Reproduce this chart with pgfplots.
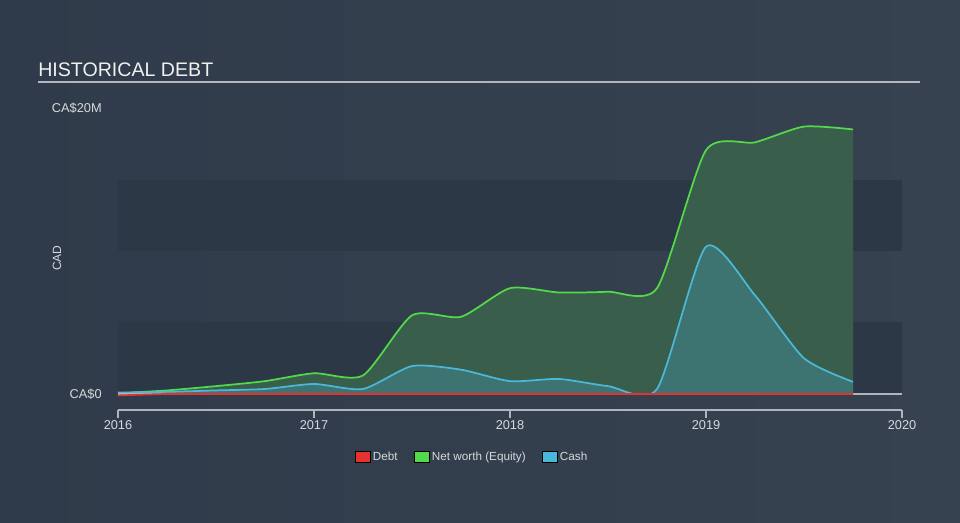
\documentclass[border=0pt]{standalone}
\usepackage{pgfplots}
\pgfplotsset{compat=1.18}
\usepackage{fontspec}
\setmainfont{Liberation Sans}
\definecolor{bgL}{HTML}{2F3B4A}
\definecolor{bgR}{HTML}{36424F}
\definecolor{band}{HTML}{2C3846}
\definecolor{titlec}{HTML}{F0F0F0}
\definecolor{rulec}{HTML}{B4B8BE}
\definecolor{labc}{HTML}{D6D9DD}
\definecolor{axc}{HTML}{B0B5BC}
\definecolor{debtc}{HTML}{E5312F}
\definecolor{netc}{HTML}{52DA4A}
\definecolor{cashc}{HTML}{4AB9D9}
\definecolor{netfill}{HTML}{3A5E4C}
\definecolor{cashfill}{HTML}{3D7370}

\pgfplotstableread{
x y
2016.00 0.05
2016.25 0.25
2016.50 0.55
2016.75 0.90
2017.00 1.45
2017.25 1.30
2017.50 5.50
2017.75 5.40
2018.00 7.40
2018.25 7.10
2018.50 7.15
2018.75 7.40
2019.00 17.05
2019.25 17.60
2019.50 18.70
2019.75 18.50
}\networth

\pgfplotstableread{
x y
2016.00 0.10
2016.25 0.15
2016.50 0.25
2016.75 0.35
2017.00 0.70
2017.25 0.35
2017.50 1.95
2017.75 1.70
2018.00 0.90
2018.25 1.05
2018.50 0.55
2018.75 0.35
2019.00 10.30
2019.25 6.90
2019.50 2.50
2019.75 0.85
}\cash

\pgfplotstableread{
x y
2016.00 -0.10
2016.25 0.00
2016.50 0.00
2016.75 0.00
2017.00 0.00
2017.25 0.00
2017.50 0.00
2017.75 0.00
2018.00 0.00
2018.25 0.00
2018.50 0.00
2018.75 0.00
2019.00 0.00
2019.25 0.00
2019.50 0.00
2019.75 0.00
}\debt

\begin{document}
\begin{tikzpicture}
\shade[left color=bgL, right color=bgR] (0,0) rectangle (720pt,-391.5pt);
\useasboundingbox (0,0) rectangle (720pt,-391.5pt);
\node[anchor=base west, text=titlec, font=\fontsize{14.7}{18}\selectfont, inner sep=0pt] at (28.5pt,-57.6pt) {HISTORICAL DEBT};
\draw[rulec, line width=1.4pt] (28.5pt,-61.5pt) -- (690pt,-61.5pt);
\node[rotate=90, text=labc, font=\fontsize{9}{11}\selectfont] at (42.75pt,-193.5pt) {CAD};
\begin{axis}[
  at={(88.5pt,-307.5pt)}, anchor=south west,
  scale only axis, width=588pt, height=226.5pt,
  xmin=2016, xmax=2020, ymin=-1.12, ymax=20,
  axis x line*=bottom, axis y line*=left,
  y axis line style={draw=none},
  x axis line style={draw=axc, line width=0.9pt},
  ytick=\empty,
  xtick={2016,2017,2018,2019,2020},
  xticklabel style={/pgf/number format/1000 sep={}, text=labc, font=\fontsize{9.6}{11}\selectfont, anchor=north, inner sep=0pt, yshift=-2pt},
  /pgf/number format/assume math mode=true,
  x tick style={draw=axc, line width=0.9pt},
  tick align=outside, major tick length=6pt,
  clip=false,
  legend columns=3,
  legend style={draw=none, fill=none, text=labc, font=\fontsize{8.8}{10}\selectfont,
    at={(0.452,-0.156)}, anchor=center,
    /tikz/every even column/.append style={column sep=10pt}},
  legend image code/.code={\fill[#1] (0pt,-4.125pt) rectangle (11.25pt,4.125pt);},
]
\addlegendimage{fill=debtc}
\addlegendentry{Debt}
\addlegendimage{fill=netc}
\addlegendentry{Net worth (Equity)}
\addlegendimage{fill=cashc}
\addlegendentry{Cash}

\fill[band] (axis cs:2016,0) rectangle (axis cs:2020,5);
\fill[band] (axis cs:2016,10) rectangle (axis cs:2020,15);
\draw[axc, line width=0.9pt] (axis cs:2016,0) -- (axis cs:2020,0);

\begin{scope}
\clip (axis cs:2015.9,0.12) rectangle (axis cs:2020,25);
\addplot[draw=none, fill=netfill, smooth, tension=0.4, forget plot] table {\networth} \closedcycle;
\addplot[draw=none, fill=cashfill, smooth, tension=0.4, forget plot] table {\cash} \closedcycle;
\addplot[netc, line width=1.3pt, smooth, tension=0.4, forget plot] table {\networth};
\addplot[cashc, line width=1.3pt, smooth, tension=0.4, forget plot] table {\cash};
\end{scope}
\addplot[debtc, line width=1.3pt, smooth, tension=0.4, forget plot] table {\debt};

\node[anchor=east, text=labc, font=\fontsize{9.6}{11}\selectfont, inner sep=0pt] at (axis cs:2016,0) [xshift=-12pt] {CA\$0};
\node[anchor=east, text=labc, font=\fontsize{9.6}{11}\selectfont, inner sep=0pt] at (axis cs:2016,20) [xshift=-12pt] {CA\$20M};
\end{axis}
\end{tikzpicture}
\end{document}
